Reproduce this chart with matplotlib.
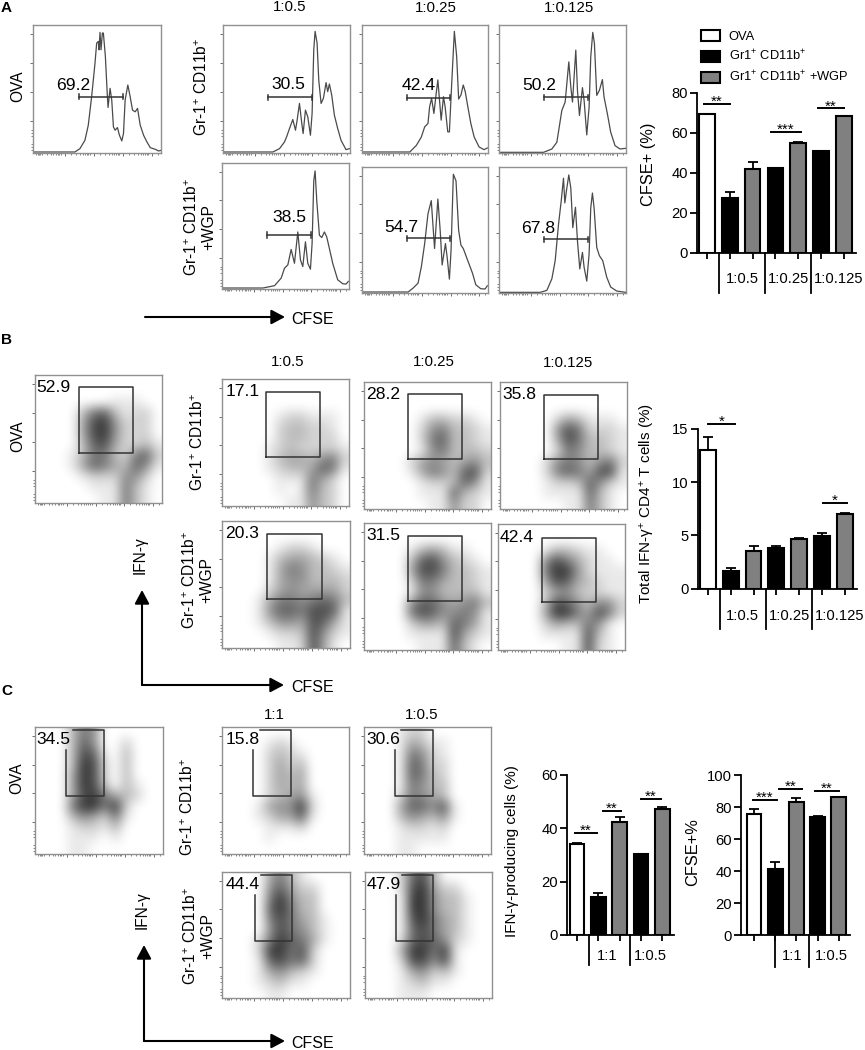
import matplotlib
matplotlib.use("Agg")
import matplotlib.pyplot as plt
import numpy as np
from matplotlib.patches import Patch
from matplotlib.transforms import blended_transform_factory

plt.rcParams["font.family"] = ["Liberation Sans", "DejaVu Sans"]
plt.rcParams["mathtext.fontset"] = "custom"
plt.rcParams["mathtext.rm"] = "Liberation Sans"
plt.rcParams["mathtext.default"] = "rm"

# --- histogram traces, panel A (channel, count) ---
a_ova_x = [0,125,140,155,165,175,185,190,195,197,200,203,207,210,216,222,224,230,235,240,245,252,258,265,270,275,283,290,297,305,312,320,330,340,350,365,375,382]
a_ova_y = [3,3,13,38,83,168,268,328,333,308,360,308,358,358,288,168,136,193,158,78,68,76,53,36,58,158,203,168,128,123,133,83,53,33,16,11,6,8]
a_c1_x = [0,150,170,185,192,200,210,218,223,230,237,241,248,255,263,268,273,277,283,288,295,302,310,315,320,327,335,345,355,370,380]
a_c1_y = [3,3,13,33,50,73,100,68,98,148,88,58,128,108,53,118,308,363,328,218,148,163,210,183,206,173,113,73,38,10,13]
a_c2_x = [0,145,165,180,190,200,205,211,218,225,230,235,240,247,252,260,265,272,280,287,293,300,307,313,320,330,340,355,370,380]
a_c2_y = [3,3,23,48,78,88,138,163,118,178,218,158,98,168,138,63,63,208,363,288,161,173,203,183,143,88,48,18,10,15]
a_c3_x = [0,134,159,174,189,199,210,216,221,231,236,242,251,256,264,271,276,282,287,294,302,311,316,326,336,349,364,381]
a_c3_y = [2,2,12,32,127,152,272,197,152,307,187,112,195,157,54,137,287,360,327,172,187,219,167,117,62,22,12,14]
a_w1_x = [0,123,158,178,188,198,208,218,228,236,243,251,258,266,271,276,280,285,293,300,308,315,323,333,348,363,373,380]
a_w1_y = [3,3,10,33,63,73,120,78,173,88,68,143,78,60,138,328,358,268,163,156,173,158,123,78,28,16,15,23]
a_w2_x = [0,140,155,170,180,190,200,210,220,230,237,243,253,258,265,270,277,285,293,300,307,320,335,345,360,373,380]
a_w2_y = [3,3,15,30,80,150,240,280,135,285,190,85,150,110,42,130,360,340,190,145,135,100,60,25,13,12,22]
a_w3_x = [0,124,144,159,169,179,187,194,198,204,210,216,222,230,236,243,251,256,264,271,276,281,286,294,302,312,324,336,354,381]
a_w3_y = [2,2,8,43,98,208,278,348,273,318,358,318,198,260,158,73,123,78,36,118,258,303,258,138,113,98,48,18,6,2]

a_numbers = ["69.2", "30.5", "42.4", "50.2", "38.5", "54.7", "67.8"]

# --- dot plot density read by eye, 0 empty to 9 solid, top row first ---
b_ova = ["000000000000","000000000000","000000011100","000036731220","000048952220","000048952220",
         "000037842231","000136632672","000147643751","000012225520","000001116310","000000116310"]
b_c1 = ["000000000000","000000000000","000000000000","000001221110","000002332210","000002332220",
        "000012322221","000013443562","000012334761","000001116420","000001016320","000000115320"]
b_c2 = ["000000000000","000000000000","000000000000","000001332210","000002563321","000002673321",
        "000001563332","000024543453","000014653782","000001223751","000001117321","000000115220"]
b_c3 = ["000000000000","000000000000","000000000000","000002431110","000005862221","000004863321",
        "000002653321","000025653562","000026764881","000012237521","000011117310","000000116310"]
b_w1 = ["000000000000","000000000000","000001221000","000013443210","000014653321","000014553332",
        "000024544442","000146656763","000157768871","000135548741","000012238521","000001128410"]
b_w2 = ["000000000000","000000000000","000013431100","000037853210","000048863321","000026643321",
        "000015533331","000057754563","000068755651","000024437641","000011118421","000001117310"]
b_w3 = ["000000000000","000000000000","000013321100","000058642110","000069952111","000048743211",
        "000024532211","000038753552","000049964862","000024336510","000011118310","000000118210"]
b_numbers = ["52.9", "17.1", "28.2", "35.8", "20.3", "31.5", "42.4"]

c_ova = ["000365000000","000375002000","000387103000","000398203000","000498203000","000498303100",
         "000489643200","000699692000","000354261000","000122130000","000111010000","000110000000"]
c_c1 = ["000000000000","000012100000","000023210000","000024230000","000024340000","000024340000",
        "000023451000","000145592000","000124471000","000011120000","000010000000","000000000000"]
c_c2 = ["000122000000","000143110000","000165210000","000176220000","000176320000","000165330000",
        "000265430000","000477581000","000354351000","000122120000","000111110000","000110000000"]
c_w1 = ["000046310000","000057422000","000069533000","000079633000","000068643100","000058653100",
        "000269764100","000299682000","000178672000","000145321000","000123110000","000011000000"]
c_w2 = ["000278300000","000289422000","000199533100","000199533100","000189643100","000178643100",
        "000278752100","000499691000","000288581000","000145231000","000123110000","000111000000"]
c_numbers = ["34.5", "15.8", "30.6", "44.4", "47.9"]

# --- bar charts ---
a_bars = [69.2, 27.5, 42, 42.4, 55, 50.7, 68.2]
a_errs = [0, 3, 3.5, 0, 0.4, 0.4, 0.3]
b_bars = [13, 1.7, 3.5, 3.8, 4.7, 4.9, 7.0]
b_errs = [1.2, 0.25, 0.5, 0.2, 0.1, 0.35, 0.1]
c1_bars = [34.3, 14.3, 42.3, 30.2, 47.2]
c1_errs = [0.2, 1.6, 2, 0.3, 0.7]
c2_bars = [76, 41.5, 83, 73.7, 86.3]
c2_errs = [3, 4.5, 3, 1, 0.3]

legend_labels = ["OVA", "Gr1$^{+}$ CD11b$^{+}$", "Gr1$^{+}$ CD11b$^{+}$ +WGP"]
GR = "Gr-1$^{+}$ CD11b$^{+}$"
GRW = "Gr-1$^{+}$ CD11b$^{+}$\n+WGP"
WHITE, BLACK, GRAY = "white", "black", "#808080"

W, H = 865, 1050
fig = plt.figure(figsize=(W / 100, H / 100), dpi=100)

# overlay in image pixels for loose labels and arrows
over = fig.add_axes([0, 0, 1, 1], zorder=5)
over.set_xlim(0, W)
over.set_ylim(H, 0)
over.axis("off")


def px_axes(x0, y0, x1, y1):
    return fig.add_axes([x0 / W, 1 - y1 / H, (x1 - x0) / W, (y1 - y0) / H])


def flow_frame(ax):
    ax.set_xlim(0, 382)
    ax.set_ylim(0, 382)
    for s in ax.spines.values():
        s.set_color("#909090")
        s.set_linewidth(1.0)
    deco = np.arange(0, 382, 87)
    xminor = [d + 87 * np.log10(m) for d in deco for m in range(2, 10) if d + 87 * np.log10(m) < 382]
    ax.set_xticks(deco[1:] + 8)
    ax.set_xticks(xminor + [10, 14, 18, 22], minor=True)
    ax.set_yticks(deco[1:] + 8)
    ax.set_yticks([10, 18, 26, 50, 60, 68], minor=True)
    ax.tick_params(which="major", length=2.5, width=0.6, color="#555555", labelbottom=False, labelleft=False)
    ax.tick_params(which="minor", length=1.5, width=0.5, color="#555555", labelbottom=False, labelleft=False)


def hist_panel(box, xs, ys, gate, number, number_pos):
    ax = px_axes(*box)
    flow_frame(ax)
    ax.plot(xs, ys, color="#4a4a4a", lw=0.9)
    ax.plot(gate[:2], [gate[2]] * 2, color="#333333", lw=1.1)
    for gx in gate[:2]:
        ax.plot([gx, gx], [gate[2] - 8, gate[2] + 8], color="#333333", lw=1.1)
    ax.text(number_pos[0], number_pos[1], number, fontsize=12.6, ha="center", va="center")


def dot_panel(box, rows, gate_x, gate_y, number, number_x, number_y):
    ax = px_axes(*box)
    flow_frame(ax)
    grid = np.array([[int(c) for c in r] for r in rows], dtype=float)
    ax.imshow(grid, cmap="gray_r", vmin=0, vmax=11.5, interpolation="bicubic",
              extent=(0, 382, 0, 382), aspect="auto", origin="upper")
    ax.plot(gate_x, gate_y, color="#333333", lw=1.1, clip_on=False)
    ax.text(number_x, number_y, number, fontsize=12.6, ha="left", va="center")


def arrow(x0, y0, x1, y1):
    over.annotate("", xy=(x1, y1), xytext=(x0, y0),
                  arrowprops=dict(arrowstyle="-|>,head_length=0.75,head_width=0.4", color="black", lw=1.5,
                                  shrinkA=0, shrinkB=0, mutation_scale=11))


def bar_panel(box, xlim, ylim, yticks, values, errs, ylabel, ylabel_size, label_xy,
              seps, sep_bottom, groups, group_y, sigs):
    ax = px_axes(*box)
    x = np.arange(len(values))
    colors = [WHITE] + [BLACK, GRAY] * ((len(values) - 1) // 2)
    ax.bar(x, values, width=0.69, color=colors, edgecolor="black", linewidth=1.5)
    ax.errorbar(x, values, yerr=[np.zeros(len(values)), errs], fmt="none", ecolor="black",
                elinewidth=1.3, capsize=3.6, capthick=1.3)
    ax.set_xlim(*xlim)
    ax.set_ylim(*ylim)
    ax.set_xticks(x)
    ax.set_xticklabels([])
    ax.set_yticks(yticks)
    ax.tick_params(axis="y", labelsize=10.6, length=5, width=1.3, pad=1.5)
    ax.tick_params(axis="x", length=4, width=1.3)
    ax.spines["top"].set_visible(False)
    ax.spines["right"].set_visible(False)
    ax.spines["left"].set_linewidth(1.3)
    ax.spines["bottom"].set_linewidth(1.3)
    ax.set_ylabel(ylabel, fontsize=ylabel_size)
    ax.yaxis.set_label_coords(*label_xy)
    tr = blended_transform_factory(ax.transData, ax.transAxes)
    for s in seps:
        ax.plot([s, s], [0, sep_bottom], transform=tr, color="black", lw=1.3, clip_on=False)
    for gx, name in groups:
        ax.text(gx, group_y, name, transform=tr, fontsize=10.6, ha="center", va="center")
    for x0, x1, y, stars in sigs:
        ax.plot([x0, x1], [y, y], color="black", lw=1.4, clip_on=False)
        ax.annotate(stars, xy=((x0 + x1) / 2, y), xytext=(0, -1.5), textcoords="offset points",
                    ha="center", va="baseline", fontsize=11, annotation_clip=False)
    return ax


def rect(x0, x1, y0, y1):
    return [x0, x1, x1, x0, x0], [y0, y0, y1, y1, y0]


# --- panel A histograms ---
hist_panel((33, 25, 161, 153), a_ova_x, a_ova_y, (136, 268, 168), a_numbers[0], (120, 200))
hist_panel((223, 25, 350, 153), a_c1_x, a_c1_y, (135, 268, 166), a_numbers[1], (198, 203))
hist_panel((362, 25, 488, 153), a_c2_x, a_c2_y, (135, 267, 165), a_numbers[2], (172, 200))
hist_panel((499, 25, 626, 153), a_c3_x, a_c3_y, (134, 267, 166), a_numbers[3], (121, 201))
hist_panel((222, 163, 349, 289), a_w1_x, a_w1_y, (136, 268, 164), a_numbers[4], (203, 218))
hist_panel((362, 167, 488, 293), a_w2_x, a_w2_y, (136, 267, 166), a_numbers[5], (119, 200))
hist_panel((499, 167, 626, 293), a_w3_x, a_w3_y, (134, 267, 163), a_numbers[6], (119, 197))

# --- panel B dot plots ---
dot_panel((35, 375, 162, 503), b_ova, *rect(133, 295, 150, 345), b_numbers[0], 5, 345)
dot_panel((222, 379, 349, 506), b_c1, *rect(132, 294, 148, 344), b_numbers[1], 10, 343)
dot_panel((364, 382, 491, 509), b_c2, *rect(133, 295, 149, 345), b_numbers[2], 7, 345)
dot_panel((500, 382, 627, 509), b_c3, *rect(132, 294, 149, 344), b_numbers[3], 6, 345)
dot_panel((222, 521, 350, 648), b_w1, *rect(135, 297, 147, 343), b_numbers[4], 10, 343)
dot_panel((364, 523, 491, 650), b_w2, *rect(133, 295, 148, 344), b_numbers[5], 7, 344)
dot_panel((498, 524, 625, 650), b_w3, *rect(133, 295, 146, 341), b_numbers[6], 6, 341)

# --- panel C dot plots, gate is open behind the number ---
dot_panel((35, 727, 163, 854), c_ova, [112, 207, 207, 93, 93], [373, 373, 173, 173, 313], c_numbers[0], 5, 345)
dot_panel((222, 727, 349, 854), c_c1, [113, 207, 207, 94, 94], [373, 373, 173, 173, 313], c_numbers[1], 10, 345)
dot_panel((364, 727, 491, 854), c_c2, [112, 207, 207, 94, 94], [373, 373, 173, 173, 313], c_numbers[2], 7, 345)
dot_panel((222, 872, 350, 998), c_w1, [115, 209, 209, 97, 97], [373, 373, 172, 172, 313], c_numbers[3], 10, 343)
dot_panel((365, 872, 492, 998), c_w2, [111, 206, 206, 93, 93], [373, 373, 172, 172, 313], c_numbers[4], 4, 343)

# --- bar charts ---
ax_a = bar_panel((696.7, 92.7, 856, 252.7), (-0.45, 6.53), (0, 80), [0, 20, 40, 60, 80], a_bars, a_errs,
                 "CFSE+ (%)", 11.8, (-0.255, 0.554), [0.51, 2.54, 4.55], -0.254,
                 [(1.53, "1:0.5"), (3.56, "1:0.25"), (5.78, "1:0.125")], -0.167,
                 [(-0.15, 1.03, 74.5, "**"), (2.8, 4.1, 60.3, "***"), (4.87, 6.0, 72.2, "**")])
bar_panel((697.7, 428.7, 857, 588.7), (-0.45, 6.54), (0, 15), [0, 5, 10, 15], b_bars, b_errs,
          "Total IFN-γ$^{+}$ CD4$^{+}$ T cells (%)", 11, (-0.256, 0.53), [0.53, 2.54, 4.55], -0.254,
          [(1.52, "1:0.5"), (3.56, "1:0.25"), (5.78, "1:0.125")], -0.171,
          [(0, 1.17, 15.47, "*"), (5.03, 6.08, 8.03, "*")])
bar_panel((566.7, 775, 674, 935), (-0.49, 4.55), (0, 60), [0, 20, 40, 60], c1_bars, c1_errs,
          "IFN-γ-producing cells (%)", 11, (-0.444, 0.525), [0.57, 2.48], -0.19,
          [(1.41, "1:1"), (3.44, "1:0.5")], -0.131,
          [(-0.09, 0.91, 38.3, "**"), (1.2, 2.05, 46.6, "**"), (3.0, 3.95, 51.1, "**")])
bar_panel((740.7, 775.3, 850, 935.3), (-0.63, 4.53), (0, 100), [0, 20, 40, 60, 80, 100], c2_bars, c2_errs,
          "CFSE+%", 11.8, (-0.372, 0.52), [0.99, 2.61], -0.2,
          [(1.79, "1:1"), (3.65, "1:0.5")], -0.131,
          [(-0.06, 1.07, 84.8, "***"), (1.2, 2.25, 91.7, "**"), (2.9, 4.0, 90.4, "**")])

handles = [Patch(facecolor=c, edgecolor="black", linewidth=1.5) for c in (WHITE, BLACK, GRAY)]
ax_a.legend(handles, legend_labels, loc="upper left", bbox_to_anchor=(700.7 / W, 1 - 30 / H),
            bbox_transform=fig.transFigure, frameon=False, fontsize=9.3, handlelength=1.5, handleheight=0.93,
            labelspacing=0.45, handletextpad=0.67, borderpad=0, borderaxespad=0)

# --- loose text ---
for x, y, s in [(1, 8, "A"), (1, 340, "B"), (1, 691, "C")]:
    over.text(x, y, s, fontsize=11, fontweight="bold", ha="left", va="center")
for x, y, s in [(290, 7, "1:0.5"), (436, 8, "1:0.25"), (569, 8, "1:0.125"),
                (288, 362, "1:0.5"), (434, 362, "1:0.25"), (568, 363, "1:0.125"),
                (274, 715, "1:1"), (422, 715, "1:0.5")]:
    over.text(x, y, s, fontsize=10.8, ha="center", va="center")
for x, y, s in [(18, 86, "OVA"), (202, 87, GR), (200, 227, GRW),
                (18, 436, "OVA"), (198, 442, GR), (198, 580, GRW),
                (17, 778, "OVA"), (188, 807, GR), (199, 936, GRW),
                (140, 555, "IFN-γ"), (142, 910, "IFN-γ")]:
    over.text(x, y, s, fontsize=11.2, rotation=90, ha="center", va="center", linespacing=1.1)
for y in (320, 687, 1044):
    over.text(313, y, "CFSE", fontsize=11.5, ha="center", va="center")

arrow(145, 317, 285, 317)
arrow(142, 685, 284, 685)
arrow(142, 685, 142, 590)
arrow(144, 1041, 285, 1041)
arrow(144, 1041, 144, 945)

fig.savefig("out.png", dpi=100)
